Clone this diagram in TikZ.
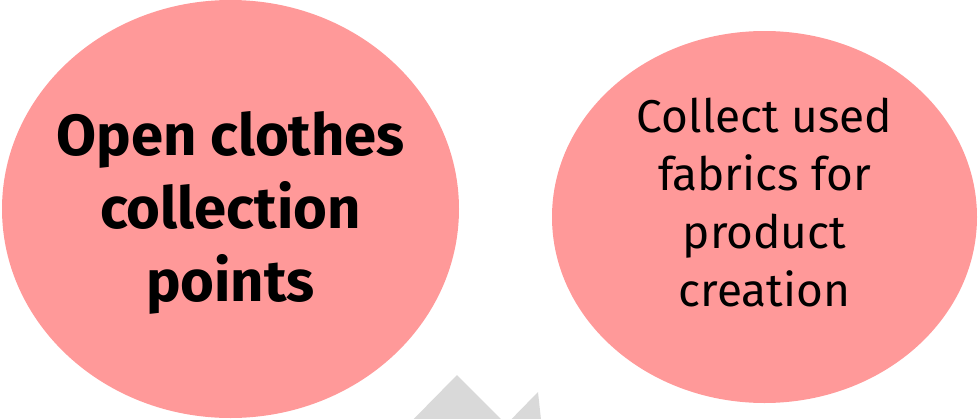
\documentclass[tikz,border=0pt]{standalone}
\usepackage{fontspec}
\setmainfont{Fira Sans}
\usepackage{xcolor}
\usepackage{tikz}

\definecolor{bubblepink}{HTML}{FF9999}
\definecolor{arrowgray}{HTML}{D9D9D9}

\tikzset{
  bubble/.style={fill=bubblepink},
  bubbletext/.style={align=center, text=black, inner sep=0pt},
}

\begin{document}
\begin{tikzpicture}[x=1pt, y=-1pt]
  \useasboundingbox (0,0) rectangle (978,418);
  \clip (0,0) rectangle (978,418);
  % Gray arrow pieces behind the bubbles
  \fill[arrowgray] (395,438) -- (457,375) -- (520,438) -- cycle;
  \fill[arrowgray] (493,438) -- (538,392) -- (543,438) -- cycle;
  % Bubbles
  \fill[bubble] (230.5,209) ellipse [x radius=228.5pt, y radius=209pt];
  \fill[bubble] (764.5,217) ellipse [x radius=212.5pt, y radius=186pt];
  \node[bubbletext, font=\fontsize{58}{73}\selectfont\bfseries] (open) at (230.5,213)
    {Open clothes\\collection\\points};
  \node[bubbletext, font=\fontsize{46}{58}\selectfont] (collect) at (764.5,203)
    {Collect used\\fabrics for\\product\\creation};
\end{tikzpicture}
\end{document}
